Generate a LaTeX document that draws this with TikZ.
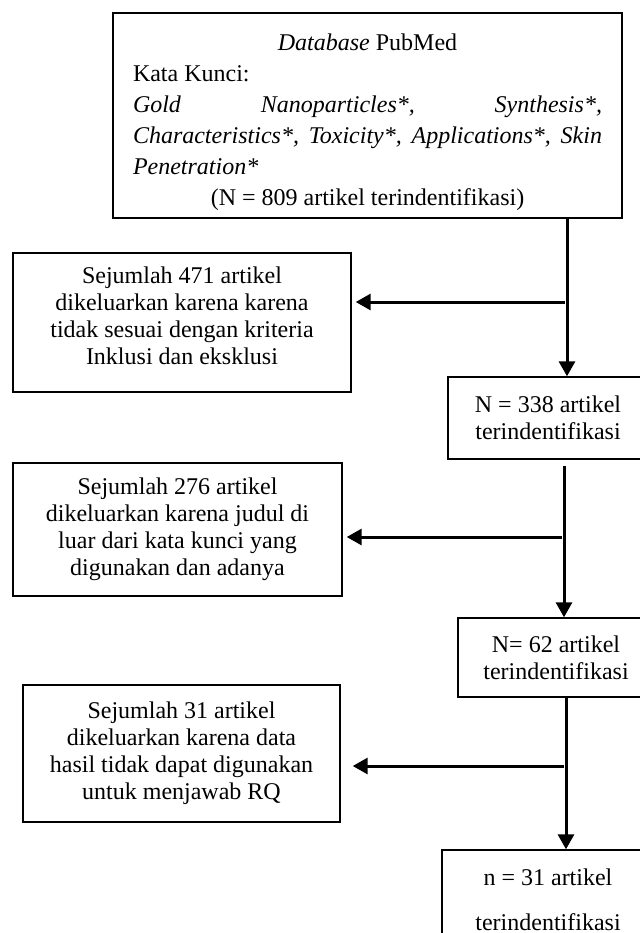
\documentclass[tikz,border=0pt]{standalone}
\usepackage{fontspec}
\setmainfont{Liberation Serif}
\usetikzlibrary{arrows.meta}

\begin{document}
\begin{tikzpicture}[x=0.5pt, y=-0.5pt,
    box/.style={draw, line width=0.7pt, align=center, inner sep=0pt,
        font=\fontsize{12}{13.5}\selectfont},
    arr/.style={line width=1.5pt, -{Triangle[width=8pt,length=7.5pt]}}]
\useasboundingbox (0,0) rectangle (640,933);
\clip (0,0) rectangle (640,933);

% search
\node[box, minimum width=254.5pt, minimum height=102.5pt, align=left,
    text width=234.5pt, font=\fontsize{12}{15.5}\selectfont] (db) at (367.5,115.5) {%
    \spaceskip=0pt \xspaceskip=0pt
    \makebox[\linewidth]{\rule{0pt}{15pt}\textit{Database} PubMed}\\
    Kata Kunci:\\
    \makebox[\linewidth]{\textit{Gold}\hfill\textit{Nanoparticles*,}\hfill\textit{Synthesis*,}}\\
    \makebox[\linewidth][s]{\textit{Characteristics*, Toxicity*, Applications*, Skin}}\\
    \textit{Penetration*}\\
    \makebox[\linewidth]{(N = 809 artikel terindentifikasi)}};

% excluded
\node[box, minimum width=169pt, minimum height=69.5pt] (ex471) at (182,322.5)
    {Sejumlah 471 artikel\\ dikeluarkan karena karena\\ tidak sesuai dengan kriteria\\ Inklusi dan eksklusi\rule[-7pt]{0pt}{7pt}};
\node[box, minimum width=164.5pt, minimum height=66.5pt] (ex276) at (177.5,529.5)
    {Sejumlah 276 artikel\\ dikeluarkan karena judul di\\ luar dari kata kunci yang\\ digunakan dan adanya};
\node[box, minimum width=158.5pt, minimum height=68.5pt] (ex31) at (181.5,753.5)
    {Sejumlah 31 artikel\\ dikeluarkan karena data\\ hasil tidak dapat digunakan\\ untuk menjawab RQ};

% remaining
\node[box, minimum width=100pt, minimum height=41pt] (n338) at (548,418)
    {N = 338 artikel\\ terindentifikasi};
\node[box, minimum width=98pt, minimum height=39.5pt] (n62) at (556,657.5)
    {N= 62 artikel\\ terindentifikasi};
\node[box, minimum width=106pt, minimum height=50pt,
    font=\fontsize{12}{22.5}\selectfont] (n31) at (548,900)
    {n = 31 artikel\\ terindentifikasi};

% spine and branches
\coordinate (s1) at (567,0);
\coordinate (s2) at (564,0);
\coordinate (s3) at (566,0);
\coordinate (h1) at (0,302);
\coordinate (h2) at (0,537);
\coordinate (h3) at (0,766);

\draw[arr] (s1 |- db.south) -- (s1 |- n338.north);
\draw[arr] ([yshift=-3pt]s2 |- n338.south) -- (s2 |- n62.north);
\draw[arr] (s3 |- n62.south) -- (s3 |- n31.north);

\draw[arr, shorten >=2pt] ([xshift=-1pt]s1 |- h1) -- (h1 -| ex471.east);
\draw[arr, shorten >=2pt] ([xshift=-1pt]s2 |- h2) -- (h2 -| ex276.east);
\draw[arr, shorten >=6pt] ([xshift=-1pt]s3 |- h3) -- (h3 -| ex31.east);

\end{tikzpicture}
\end{document}
